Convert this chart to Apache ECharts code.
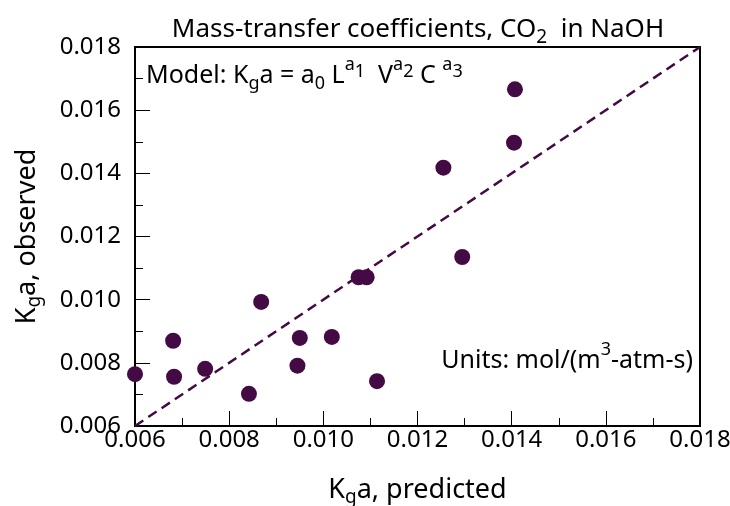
<!DOCTYPE html>
<html>
<head>
<meta charset="utf-8">
<script src="https://cdn.jsdelivr.net/npm/echarts@6/dist/echarts.min.js"></script>
<style>
  html, body { margin: 0; padding: 0; background: #fff; }
  #chart { width: 730px; height: 506px; }
</style>
</head>
<body>
<div id="chart"></div>
<script>
// 预测值 / 观测值 (Kga)
const predicted = [0.0060, 0.00681, 0.00683, 0.00749, 0.00842, 0.00868, 0.00945, 0.00950,
  0.01018, 0.01075, 0.01092, 0.01114, 0.01255, 0.01295, 0.01405, 0.01407]
const observed = [0.00764, 0.00870, 0.00756, 0.00781, 0.00702, 0.00993, 0.00791, 0.00879,
  0.00882, 0.01071, 0.01071, 0.00742, 0.01418, 0.01135, 0.01497, 0.01666]
// 对角线 y = x
const parityLine = [[0.006, 0.006], [0.018, 0.018]]
const axisMin = 0.006
const axisMax = 0.018
const axisStep = 0.002

const FONT = 'Noto Sans'
const PURPLE = '#440a44'

const chart = echarts.init(document.getElementById('chart'))

// 上下标用的富文本样式
const makeRich = (size) => {
  const small = Math.round(size * 0.72)
  const base = { fontFamily: FONT, color: '#000' }
  return {
    n: { ...base, fontSize: size, verticalAlign: 'middle', lineHeight: 40 },
    sub: { ...base, fontSize: small, verticalAlign: 'bottom', padding: [0, 0, 3, 0] },
    sup: { ...base, fontSize: small, verticalAlign: 'top' },
    ssub: { ...base, fontSize: small, verticalAlign: 'top', padding: [7, 0, 0, 0] }
  }
}

const axisCommon = {
  type: 'value',
  min: axisMin,
  max: axisMax,
  interval: axisStep,
  axisLine: { show: true, lineStyle: { color: '#000', width: 2 } },
  axisTick: { show: true, inside: true, length: 15, lineStyle: { color: '#000', width: 1 } },
  minorTick: { show: true, splitNumber: 2, length: 8, lineStyle: { color: '#000', width: 1 } },
  splitLine: { show: false },
  axisLabel: {
    color: '#000',
    fontSize: 24,
    fontFamily: FONT,
    formatter: v => v.toFixed(3)
  },
  nameLocation: 'middle',
  nameTextStyle: { rich: makeRich(27) }
}

const option = {
  animation: false,
  backgroundColor: '#fff',
  grid: {
    left: 135,
    right: 30,
    top: 47,
    bottom: 80,
    outerBoundsMode: 'none',
    containLabel: false,
    show: true,
    borderColor: '#000',
    borderWidth: 2
  },
  xAxis: {
    ...axisCommon,
    name: '{n|K}{sub|g}{n|a, predicted}',
    nameGap: 44,
    axisLabel: { ...axisCommon.axisLabel, margin: 2 }
  },
  yAxis: {
    ...axisCommon,
    name: '{n|K}{sub|g}{n|a, observed}',
    nameGap: 88,
    nameRotate: 90,
    axisLabel: { ...axisCommon.axisLabel, margin: 14 }
  },
  graphic: [
    {
      type: 'text',
      x: 418,
      y: 10,
      style: {
        text: '{n|Mass-transfer coefficients, CO}{sub|2}{n|  in NaOH}',
        align: 'center',
        verticalAlign: 'top',
        rich: makeRich(26)
      }
    },
    {
      type: 'text',
      left: 146,
      top: 56,
      style: {
        text: '{n|Model: K}{sub|g}{n|a = a}{sub|0}{n| L}{sup|a}{ssub|1}{n|  V}{sup|a}{ssub|2}{n| C }{sup|a}{ssub|3}',
        rich: makeRich(25)
      }
    },
    {
      type: 'text',
      right: 37,
      top: 341,
      style: {
        text: '{n|Units: mol/(m}{sup|3}{n|-atm-s)}',
        rich: makeRich(25)
      }
    }
  ],
  series: [
    {
      name: 'parity',
      type: 'line',
      data: parityLine,
      showSymbol: false,
      lineStyle: { color: PURPLE, width: 2.5, type: [10, 6] },
      silent: true,
      z: 1
    },
    {
      name: 'Kga',
      type: 'scatter',
      data: predicted.map((x, i) => [x, observed[i]]),
      symbol: 'circle',
      symbolSize: 16,
      clip: false,
      itemStyle: { color: PURPLE, opacity: 1 },
      z: 3
    }
  ]
}

chart.setOption(option)
</script>
</body>
</html>
